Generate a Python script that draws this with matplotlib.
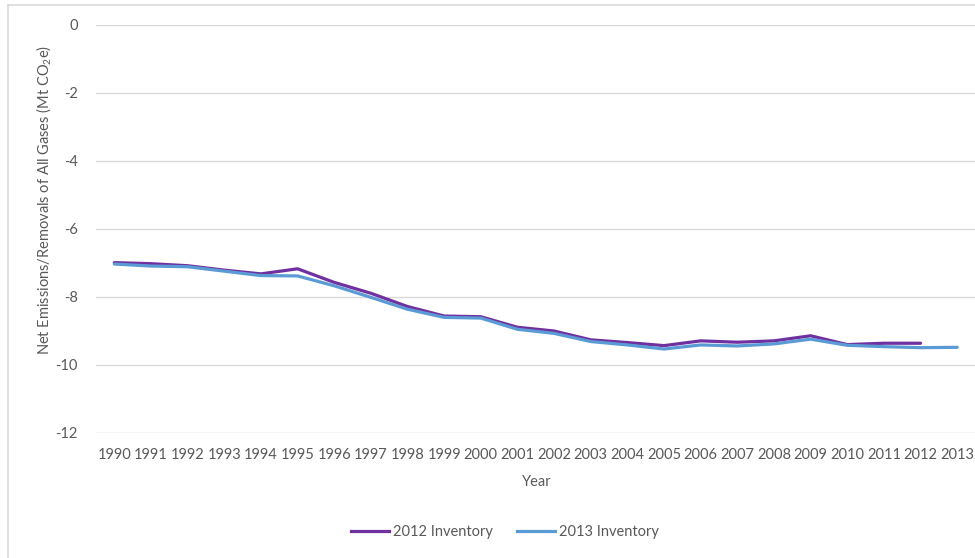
import matplotlib
matplotlib.use("Agg")
import matplotlib.pyplot as plt
from matplotlib.lines import Line2D

plt.rcParams['font.family'] = ['Lato', 'DejaVu Sans']
plt.rcParams['mathtext.fontset'] = 'custom'
plt.rcParams['mathtext.rm'] = 'Lato'

years = [str(y) for y in range(1990, 2014)]
inv2012 = [-6.99, -7.02, -7.08, -7.21, -7.32, -7.17, -7.57, -7.89, -8.28, -8.56,
           -8.58, -8.89, -9.00, -9.26, -9.34, -9.43, -9.29, -9.33, -9.29, -9.14,
           -9.40, -9.36, -9.36]
inv2013 = [-7.03, -7.09, -7.11, -7.24, -7.37, -7.38, -7.67, -8.01, -8.36, -8.60,
           -8.62, -8.95, -9.07, -9.31, -9.41, -9.53, -9.41, -9.44, -9.38, -9.24,
           -9.42, -9.46, -9.49, -9.48]
series_names = ['2012 Inventory', '2013 Inventory']
colors = ['#7030A0', '#5B9BD5']
yticks = [0, -2, -4, -6, -8, -10, -12]

W, H = 975, 558
fig = plt.figure(figsize=(W / 100, H / 100), dpi=100)
ax = fig.add_axes([96 / W, 1 - 433 / H, (975.5 - 96) / W, (433 - 25) / H])

x = list(range(len(years)))
ax.plot(x[:len(inv2012)], inv2012, color=colors[0], lw=2.3, solid_capstyle='round', zorder=3)
ax.plot(x, inv2013, color=colors[1], lw=2.3, solid_capstyle='round', zorder=4)

ax.set_xlim(-0.5, len(years) - 0.5)
ax.set_ylim(-12, 0)
ax.set_yticks(yticks)
ax.set_yticklabels([str(t) for t in yticks])
ax.set_xticks(x)
ax.set_xticklabels(years)
ax.grid(axis='y', color='#D9D9D9', lw=1.0)
ax.set_axisbelow(True)
for s in ax.spines.values():
    s.set_visible(False)
ax.tick_params(axis='both', length=0, labelsize=10.5, colors='#595959')
ax.tick_params(axis='y', pad=13)
ax.tick_params(axis='x', pad=11)

fig.text(44 / W, 1 - 200 / H,
         r'Net Emissions/Removals of All Gases (Mt CO$_\mathregular{2}$e)',
         rotation=90, ha='center', va='center', fontsize=10.5, color='#595959')
fig.text(537 / W, 1 - 482 / H, 'Year', ha='center', va='center',
         fontsize=10.5, color='#595959')

handles = [Line2D([], [], color=c, lw=2.3) for c in colors]
fig.legend(handles, series_names, loc='center', bbox_to_anchor=(505 / W, 1 - 532 / H),
           ncol=2, frameon=False, fontsize=10.5, labelcolor='#595959',
           handlelength=2.6, handletextpad=0.3, columnspacing=1.6)

# chart border (left and top)
fig.add_artist(Line2D([7.5 / W, 7.5 / W], [0, 1 - 5 / H], transform=fig.transFigure,
                      color='#D9D9D9', lw=1.2))
fig.add_artist(Line2D([7.5 / W, 1], [1 - 5 / H, 1 - 5 / H], transform=fig.transFigure,
                      color='#D9D9D9', lw=1.2))

fig.savefig('out.png', dpi=100)
